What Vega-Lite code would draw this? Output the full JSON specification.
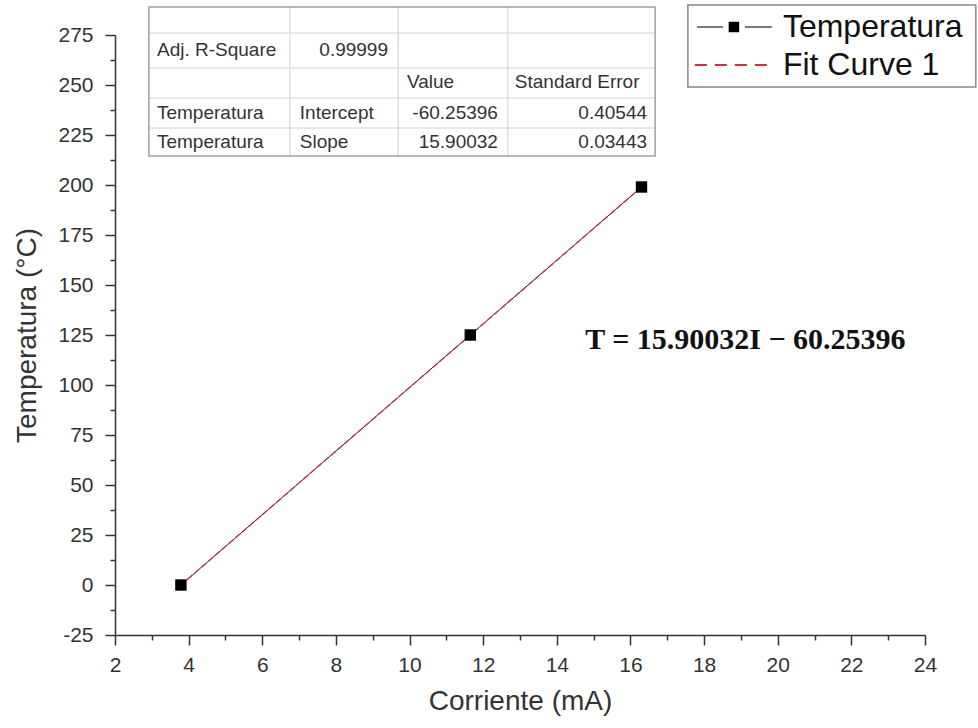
{
  "$schema": "https://vega.github.io/schema/vega-lite/v6.json",
  "width": 810,
  "height": 600,
  "autosize": {"type": "none"},
  "padding": {"left": 115, "top": 35, "right": 53, "bottom": 93},
  "background": "white",
  "config": {
    "view": {"stroke": null},
    "font": "Liberation Sans"
  },
  "datasets": {
    "points": [
      {"corriente": 3.79, "temperatura": 0},
      {"corriente": 11.65, "temperatura": 125},
      {"corriente": 16.3, "temperatura": 199}
    ],
    "fit": [
      {"corriente": 3.79, "temperatura": 0.01},
      {"corriente": 16.3, "temperatura": 198.92}
    ],
    "tableBox": [{"x": 2.92, "x2": 16.67, "y": 289, "y2": 214.5}],
    "tableH": [
      {"x": 2.92, "x2": 16.67, "y": 276},
      {"x": 2.92, "x2": 16.67, "y": 258.5},
      {"x": 2.92, "x2": 16.67, "y": 243.5},
      {"x": 2.92, "x2": 16.67, "y": 228.5}
    ],
    "tableV": [
      {"x": 6.75, "y": 289, "y2": 214.5},
      {"x": 9.69, "y": 289, "y2": 214.5},
      {"x": 12.67, "y": 289, "y2": 214.5}
    ],
    "tableLeft": [
      {"x": 3.14, "y": 267.5, "t": "Adj. R-Square"},
      {"x": 9.93, "y": 251.5, "t": "Value"},
      {"x": 12.86, "y": 251.5, "t": "Standard Error"},
      {"x": 3.14, "y": 236, "t": "Temperatura"},
      {"x": 7.02, "y": 236, "t": "Intercept"},
      {"x": 3.14, "y": 221.5, "t": "Temperatura"},
      {"x": 7.02, "y": 221.5, "t": "Slope"}
    ],
    "tableRight": [
      {"x": 9.415, "y": 267.5, "t": "0.99999"},
      {"x": 12.4, "y": 236, "t": "-60.25396"},
      {"x": 16.45, "y": 236, "t": "0.40544"},
      {"x": 12.4, "y": 221.5, "t": "15.90032"},
      {"x": 16.45, "y": 221.5, "t": "0.03443"}
    ],
    "equation": [{"x": 14.77, "y": 122.5, "t": "T = 15.90032I − 60.25396"}],
    "legendBox": [{"x": 17.56, "x2": 25.38, "y": 290, "y2": 249}],
    "legendLine": [
      {"x": 17.81, "x2": 18.51, "y": 279},
      {"x": 19.11, "x2": 19.84, "y": 279}
    ],
    "legendSymbol": [{"x": 18.81, "y": 279}],
    "legendDash": [{"x": 17.75, "x2": 19.84, "y": 260}],
    "legendText": [
      {"x": 20.14, "y": 279, "t": "Temperatura"},
      {"x": 20.14, "y": 260, "t": "Fit Curve 1"}
    ]
  },
  "encoding": {
    "x": {
      "type": "quantitative",
      "scale": {"domain": [2, 24], "nice": false, "zero": false},
      "axis": {
        "title": "Corriente (mA)",
        "values": [2,3,4,5,6,7,8,9,10,11,12,13,14,15,16,17,18,19,20,21,22,23,24],
        "labelExpr": "datum.value % 2 === 0 ? '' + datum.value : ''",
        "tickSize": {"condition": {"test": "datum.value % 2 !== 0", "value": 5}, "value": 10},
        "grid": false,
        "domainColor": "#333333",
        "domainWidth": 1.5,
        "tickColor": "#333333",
        "tickWidth": 1.5,
        "labelFontSize": 21,
        "labelColor": "#333333",
        "labelPadding": 9,
        "labelFlush": false,
        "titleFontSize": 28,
        "titleFontWeight": "normal",
        "titleColor": "#333333",
        "titlePadding": 12
      }
    },
    "y": {
      "type": "quantitative",
      "scale": {"domain": [-25, 275], "nice": false, "zero": false},
      "axis": {
        "title": "Temperatura (°C)",
        "values": [-25,-12.5,0,12.5,25,37.5,50,62.5,75,87.5,100,112.5,125,137.5,150,162.5,175,187.5,200,212.5,225,237.5,250,262.5,275],
        "labelExpr": "datum.value % 25 === 0 ? '' + datum.value : ''",
        "tickSize": {"condition": {"test": "datum.value % 25 !== 0", "value": 5}, "value": 10},
        "grid": false,
        "domainColor": "#333333",
        "domainWidth": 1.5,
        "tickColor": "#333333",
        "tickWidth": 1.5,
        "labelFontSize": 21,
        "labelColor": "#333333",
        "labelPadding": 12,
        "labelFlush": false,
        "titleFontSize": 28,
        "titleFontWeight": "normal",
        "titleColor": "#333333",
        "titlePadding": 16
      }
    }
  },
  "layer": [
    {
      "data": {"name": "tableH"},
      "mark": {"type": "rule", "color": "#d0d0d0", "strokeWidth": 1},
      "encoding": {"x": {"field": "x", "type": "quantitative"}, "x2": {"field": "x2"}, "y": {"field": "y", "type": "quantitative"}}
    },
    {
      "data": {"name": "tableV"},
      "mark": {"type": "rule", "color": "#d0d0d0", "strokeWidth": 1},
      "encoding": {"x": {"field": "x", "type": "quantitative"}, "y": {"field": "y", "type": "quantitative"}, "y2": {"field": "y2"}}
    },
    {
      "data": {"name": "tableBox"},
      "mark": {"type": "rect", "fill": null, "stroke": "#a0a0a0", "strokeWidth": 1.5},
      "encoding": {"x": {"field": "x", "type": "quantitative"}, "x2": {"field": "x2"}, "y": {"field": "y", "type": "quantitative"}, "y2": {"field": "y2"}}
    },
    {
      "data": {"name": "tableLeft"},
      "mark": {"type": "text", "align": "left", "baseline": "middle", "fontSize": 19, "color": "#333333"},
      "encoding": {"x": {"field": "x", "type": "quantitative"}, "y": {"field": "y", "type": "quantitative"}, "text": {"field": "t"}}
    },
    {
      "data": {"name": "tableRight"},
      "mark": {"type": "text", "align": "right", "baseline": "middle", "fontSize": 19, "color": "#333333"},
      "encoding": {"x": {"field": "x", "type": "quantitative"}, "y": {"field": "y", "type": "quantitative"}, "text": {"field": "t"}}
    },
    {
      "data": {"name": "points"},
      "mark": {"type": "line", "color": "#222222", "strokeWidth": 1},
      "encoding": {"x": {"field": "corriente", "type": "quantitative"}, "y": {"field": "temperatura", "type": "quantitative"}}
    },
    {
      "data": {"name": "fit"},
      "mark": {"type": "line", "color": "#c8323c", "strokeWidth": 1.5, "strokeDash": [6, 3], "opacity": 0.8},
      "encoding": {"x": {"field": "corriente", "type": "quantitative"}, "y": {"field": "temperatura", "type": "quantitative"}}
    },
    {
      "data": {"name": "points"},
      "mark": {"type": "point", "shape": "square", "filled": true, "color": "#000000", "size": 130, "opacity": 1},
      "encoding": {"x": {"field": "corriente", "type": "quantitative"}, "y": {"field": "temperatura", "type": "quantitative"}}
    },
    {
      "data": {"name": "equation"},
      "mark": {"type": "text", "align": "left", "baseline": "middle", "fontSize": 30, "font": "Liberation Serif", "fontWeight": "bold", "color": "#111111"},
      "encoding": {"x": {"field": "x", "type": "quantitative"}, "y": {"field": "y", "type": "quantitative"}, "text": {"field": "t"}}
    },
    {
      "data": {"name": "legendBox"},
      "mark": {"type": "rect", "fill": "white", "stroke": "#888888", "strokeWidth": 1.5},
      "encoding": {"x": {"field": "x", "type": "quantitative"}, "x2": {"field": "x2"}, "y": {"field": "y", "type": "quantitative"}, "y2": {"field": "y2"}}
    },
    {
      "data": {"name": "legendLine"},
      "mark": {"type": "rule", "color": "#222222", "strokeWidth": 1.2},
      "encoding": {"x": {"field": "x", "type": "quantitative"}, "x2": {"field": "x2"}, "y": {"field": "y", "type": "quantitative"}}
    },
    {
      "data": {"name": "legendSymbol"},
      "mark": {"type": "point", "shape": "square", "filled": true, "color": "#000000", "size": 110, "opacity": 1},
      "encoding": {"x": {"field": "x", "type": "quantitative"}, "y": {"field": "y", "type": "quantitative"}}
    },
    {
      "data": {"name": "legendDash"},
      "mark": {"type": "rule", "color": "#c8323c", "strokeWidth": 2, "strokeDash": [12, 8]},
      "encoding": {"x": {"field": "x", "type": "quantitative"}, "x2": {"field": "x2"}, "y": {"field": "y", "type": "quantitative"}}
    },
    {
      "data": {"name": "legendText"},
      "mark": {"type": "text", "align": "left", "baseline": "middle", "fontSize": 32, "color": "#111111"},
      "encoding": {"x": {"field": "x", "type": "quantitative"}, "y": {"field": "y", "type": "quantitative"}, "text": {"field": "t"}}
    }
  ]
}
